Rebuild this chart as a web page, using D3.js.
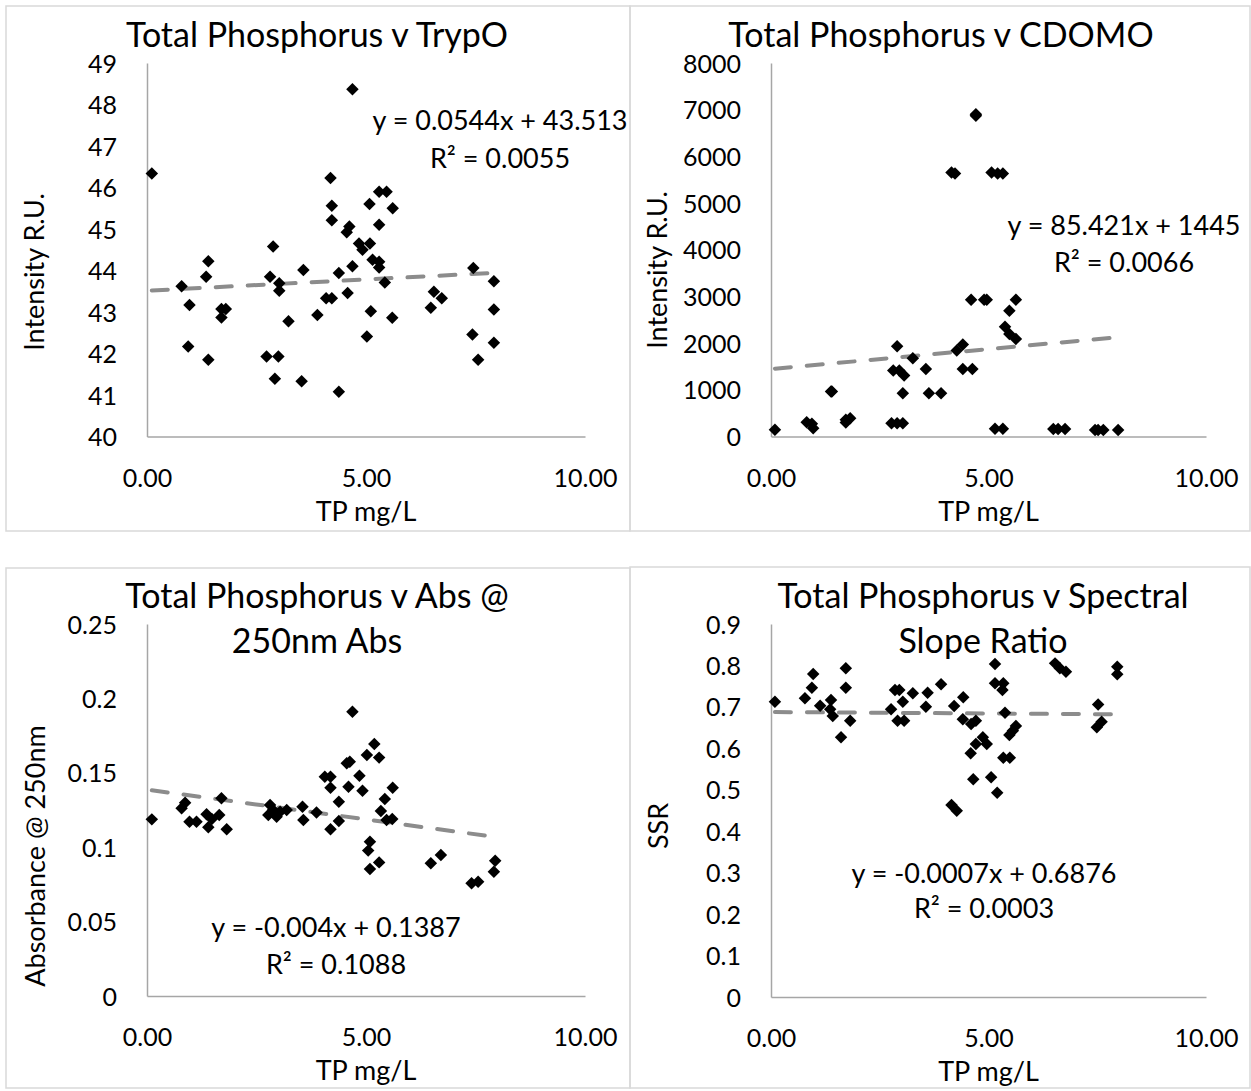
<!DOCTYPE html>
<html>
<head>
<meta charset="utf-8">
<script src="https://cdn.jsdelivr.net/npm/d3@7"></script>
<style>
  body { margin: 0; background: #fff; }
  text { font-family: Lato, "Open Sans", sans-serif; fill: #000; }
</style>
</head>
<body>
<div id="chart"></div>
<script>
// ---- data ----
const xTicks = [0, 5, 10];

const tpTryp = [0.11, 4.69, 0.79, 0.97, 0.94, 1.40, 1.35, 1.40, 1.70, 1.80, 1.70, 2.88, 2.81, 3.02, 3.02, 2.73, 3.00, 2.92, 3.23, 3.57, 3.53, 3.89, 4.09, 4.22, 4.19, 4.22, 4.22, 4.38, 4.38, 4.58, 4.69, 4.62, 4.56, 4.84, 4.92, 5.09, 5.08, 5.30, 5.47, 5.61, 5.30, 5.15, 5.30, 5.30, 5.43, 5.11, 5.60, 5.02, 6.48, 6.55, 6.73, 7.45, 7.43, 7.56, 7.92, 7.92, 7.92];
const trypO = [46.34, 48.37, 43.62, 43.17, 42.17, 44.22, 43.85, 41.85, 43.07, 43.07, 42.87, 44.58, 43.85, 43.69, 43.51, 41.93, 41.93, 41.39, 42.78, 44.01, 41.33, 42.93, 43.33, 43.33, 46.23, 45.56, 45.21, 43.94, 41.08, 43.46, 44.10, 45.06, 44.92, 44.65, 44.50, 44.65, 45.60, 45.90, 45.90, 45.50, 45.10, 44.26, 44.21, 44.07, 43.71, 43.02, 42.86, 42.41, 43.10, 43.49, 43.33, 44.06, 42.46, 41.85, 43.74, 43.06, 42.26];
const trypTicks = [40, 41, 42, 43, 44, 45, 46, 47, 48, 49];

const tpCdom = [0.09, 0.82, 0.94, 0.97, 1.38, 1.40, 1.72, 1.82, 1.72, 2.77, 2.90, 3.03, 2.90, 2.81, 2.95, 3.06, 3.03, 3.26, 3.56, 3.63, 3.91, 4.15, 4.23, 4.27, 4.41, 4.41, 4.63, 4.60, 4.90, 4.96, 4.71, 4.71, 5.07, 5.21, 5.33, 5.15, 5.33, 5.63, 5.48, 5.38, 5.48, 5.63, 6.49, 6.60, 6.76, 7.45, 7.52, 7.64, 7.98];
const cdomO = [143, 306, 271, 178, 962, 962, 357, 392, 300, 285, 285, 285, 1932, 1412, 1412, 1305, 926, 1675, 1448, 926, 926, 5653, 5632, 1840, 1968, 1448, 1448, 2930, 2930, 2930, 6902, 6870, 5653, 5632, 5632, 164, 164, 2930, 2695, 2353, 2197, 2090, 160, 160, 160, 140, 140, 140, 140];
const cdomTicks = [0, 1000, 2000, 3000, 4000, 5000, 6000, 7000, 8000];

const tpAbs = [0.11, 0.79, 0.87, 0.97, 1.13, 1.36, 1.40, 1.48, 1.65, 1.70, 1.82, 2.81, 2.77, 2.88, 2.92, 2.96, 3.04, 3.19, 3.55, 3.57, 3.87, 4.06, 4.19, 4.19, 4.38, 4.19, 4.38, 4.69, 4.56, 4.63, 4.60, 4.85, 4.92, 5.02, 5.19, 5.30, 5.43, 5.61, 5.34, 5.47, 5.60, 5.09, 5.05, 5.09, 5.30, 6.48, 6.71, 7.41, 7.56, 7.92, 7.95];
const abs250 = [0.1187, 0.1261, 0.1299, 0.1171, 0.1171, 0.1221, 0.1134, 0.1190, 0.1216, 0.1329, 0.1120, 0.1284, 0.1216, 0.1250, 0.1230, 0.1205, 0.1239, 0.1250, 0.1272, 0.1183, 0.1234, 0.1474, 0.1474, 0.1400, 0.1306, 0.1120, 0.1176, 0.1911, 0.1564, 0.1575, 0.1407, 0.1480, 0.1380, 0.1620, 0.1694, 0.1602, 0.1324, 0.1400, 0.1243, 0.1183, 0.1190, 0.1037, 0.0977, 0.0853, 0.0898, 0.0892, 0.0948, 0.0757, 0.0768, 0.0835, 0.0909];
const absTicks = [0, 0.05, 0.1, 0.15, 0.2, 0.25];

const tpSsr = [0.09, 0.78, 0.94, 0.97, 1.13, 1.38, 1.36, 1.42, 1.61, 1.72, 1.72, 1.82, 2.76, 2.85, 2.95, 3.03, 2.91, 3.06, 3.26, 3.56, 3.60, 3.91, 4.21, 4.42, 4.41, 4.60, 4.71, 4.59, 4.71, 4.87, 4.96, 4.65, 4.15, 4.27, 5.15, 5.15, 5.34, 5.32, 5.38, 5.06, 5.20, 5.34, 5.49, 5.48, 5.63, 5.56, 6.53, 6.64, 6.78, 7.96, 7.96, 7.52, 7.60, 7.49];
const ssr = [0.7126, 0.7208, 0.7464, 0.7794, 0.7030, 0.7167, 0.6942, 0.6781, 0.6267, 0.7932, 0.7464, 0.6668, 0.6942, 0.7408, 0.7408, 0.7126, 0.6668, 0.6668, 0.7329, 0.7006, 0.7343, 0.7546, 0.7022, 0.7232, 0.6701, 0.6588, 0.6668, 0.5881, 0.6105, 0.6267, 0.6105, 0.5253, 0.4633, 0.4496, 0.8036, 0.7570, 0.7570, 0.7408, 0.6861, 0.5302, 0.4930, 0.5775, 0.5775, 0.6322, 0.6540, 0.6426, 0.8050, 0.7930, 0.7850, 0.7970, 0.7790, 0.7060, 0.6640, 0.6510];
const ssrTicks = [0, 0.1, 0.2, 0.3, 0.4, 0.5, 0.6, 0.7, 0.8, 0.9];

// trendline coefficients as printed on each chart
const trypFit = { slope: 0.0544, icept: 43.513 };
const cdomFit = { slope: 85.421, icept: 1445 };
const absFit = { slope: -0.004, icept: 0.1387 };
const ssrFit = { slope: -0.0007, icept: 0.6876 };

// ---- layout ----
const W = 1251, H = 1091;
const svg = d3.select('#chart').append('svg')
  .attr('width', W).attr('height', H)
  .style('background', '#fff');

const panels = [
  {
    box: [6, 6, 630, 531], px: [147, 585], py: [436.5, 63],
    xs: tpTryp, ys: trypO, yDomain: [40, 49], yTicks: trypTicks, yFmt: d3.format('d'),
    fit: trypFit, title: ['Total Phosphorus v TrypO'], titleX: 317, titleY: [47],
    eq: ['y = 0.0544x + 43.513', 'R² = 0.0055'], eqX: 500, eqY: [130, 168],
    yTitle: 'Intensity R.U.', yTitleC: [44, 272]
  },
  {
    box: [630, 6, 1250, 531], px: [771, 1206], py: [436.5, 63],
    xs: tpCdom, ys: cdomO, yDomain: [0, 8000], yTicks: cdomTicks, yFmt: d3.format('d'),
    fit: cdomFit, title: ['Total Phosphorus v CDOMO'], titleX: 941, titleY: [47],
    eq: ['y = 85.421x + 1445', 'R² = 0.0066'], eqX: 1124, eqY: [235, 272],
    yTitle: 'Intensity R.U.', yTitleC: [667, 270]
  },
  {
    box: [6, 568, 630, 1088], px: [147, 585], py: [996, 624],
    xs: tpAbs, ys: abs250, yDomain: [0, 0.25], yTicks: absTicks, yFmt: d => d === 0 ? '0' : String(d),
    fit: absFit, title: ['Total Phosphorus v Abs @', '250nm Abs'], titleX: 317, titleY: [608, 653],
    eq: ['y = -0.004x + 0.1387', 'R² = 0.1088'], eqX: 336, eqY: [937, 974],
    yTitle: 'Absorbance @ 250nm', yTitleC: [45, 856]
  },
  {
    box: [630, 567, 1250, 1088], px: [771, 1206], py: [997, 624],
    xs: tpSsr, ys: ssr, yDomain: [0, 0.9], yTicks: ssrTicks, yFmt: d => d === 0 ? '0' : String(d),
    fit: ssrFit, title: ['Total Phosphorus v Spectral', 'Slope Ratio'], titleX: 983, titleY: [608, 653],
    eq: ['y = -0.0007x + 0.6876', 'R² = 0.0003'], eqX: 984, eqY: [883, 918],
    yTitle: 'SSR', yTitleC: [668, 826]
  }
];

const axisColor = '#a6a6a6';

panels.forEach(p => {
  const [bx0, by0, bx1, by1] = p.box;
  svg.append('rect')
    .attr('x', bx0).attr('y', by0)
    .attr('width', bx1 - bx0).attr('height', by1 - by0)
    .attr('fill', 'none').attr('stroke', '#d9d9d9').attr('stroke-width', 1.5);

  const x = d3.scaleLinear().domain([0, 10]).range(p.px);
  const y = d3.scaleLinear().domain(p.yDomain).range(p.py);

  // x axis
  svg.append('g')
    .attr('transform', `translate(0,${p.py[0]})`)
    .call(d3.axisBottom(x).tickValues(xTicks).tickFormat(d3.format('.2f')).tickSize(0).tickSizeOuter(0))
    .call(g => g.select('.domain').attr('stroke', axisColor).attr('stroke-width', 1.5))
    .call(g => g.selectAll('text').attr('y', 50).attr('dy', 0)
      .attr('font-size', '25px').attr('font-family', 'Lato, sans-serif').attr('fill', '#000'));

  // y axis
  svg.append('g')
    .attr('transform', `translate(${p.px[0]},0)`)
    .call(d3.axisLeft(y).tickValues(p.yTicks).tickFormat(p.yFmt).tickSize(0).tickSizeOuter(0))
    .call(g => g.select('.domain').attr('stroke', axisColor).attr('stroke-width', 1.5))
    .call(g => g.selectAll('text').attr('x', -30).attr('dy', '0.36em')
      .attr('font-size', '25px').attr('font-family', 'Lato, sans-serif').attr('fill', '#000'));

  // trendline (Excel draws it from min x to max x)
  const xr = d3.extent(p.xs);
  svg.append('line')
    .attr('x1', x(xr[0])).attr('y1', y(p.fit.slope * xr[0] + p.fit.icept))
    .attr('x2', x(xr[1])).attr('y2', y(p.fit.slope * xr[1] + p.fit.icept))
    .attr('stroke', '#8c8c8c').attr('stroke-width', 4)
    .attr('stroke-dasharray', '16,16').attr('stroke-linecap', 'round');

  // points
  const diamond = d3.symbol().type(d3.symbolSquare).size(78);
  svg.append('g').selectAll('path')
    .data(p.xs.map((v, i) => [v, p.ys[i]]))
    .join('path')
    .attr('d', diamond)
    .attr('transform', d => `translate(${x(d[0])},${y(d[1])}) rotate(45)`)
    .attr('fill', '#000');

  // title
  p.title.forEach((t, i) => {
    svg.append('text')
      .attr('x', p.titleX).attr('y', p.titleY[i])
      .attr('text-anchor', 'middle').attr('font-size', '34px')
      .text(t);
  });

  // equation + R²
  p.eq.forEach((t, i) => {
    svg.append('text')
      .attr('x', p.eqX).attr('y', p.eqY[i])
      .attr('text-anchor', 'middle').attr('font-size', '27px')
      .text(t);
  });

  // axis titles
  svg.append('text')
    .attr('x', (p.px[0] + p.px[1]) / 2).attr('y', p.py[0] + 84)
    .attr('text-anchor', 'middle').attr('font-size', '27px')
    .text('TP mg/L');

  svg.append('text')
    .attr('transform', `translate(${p.yTitleC[0]},${p.yTitleC[1]}) rotate(-90)`)
    .attr('text-anchor', 'middle').attr('font-size', '27px')
    .text(p.yTitle);
});
</script>
</body>
</html>
